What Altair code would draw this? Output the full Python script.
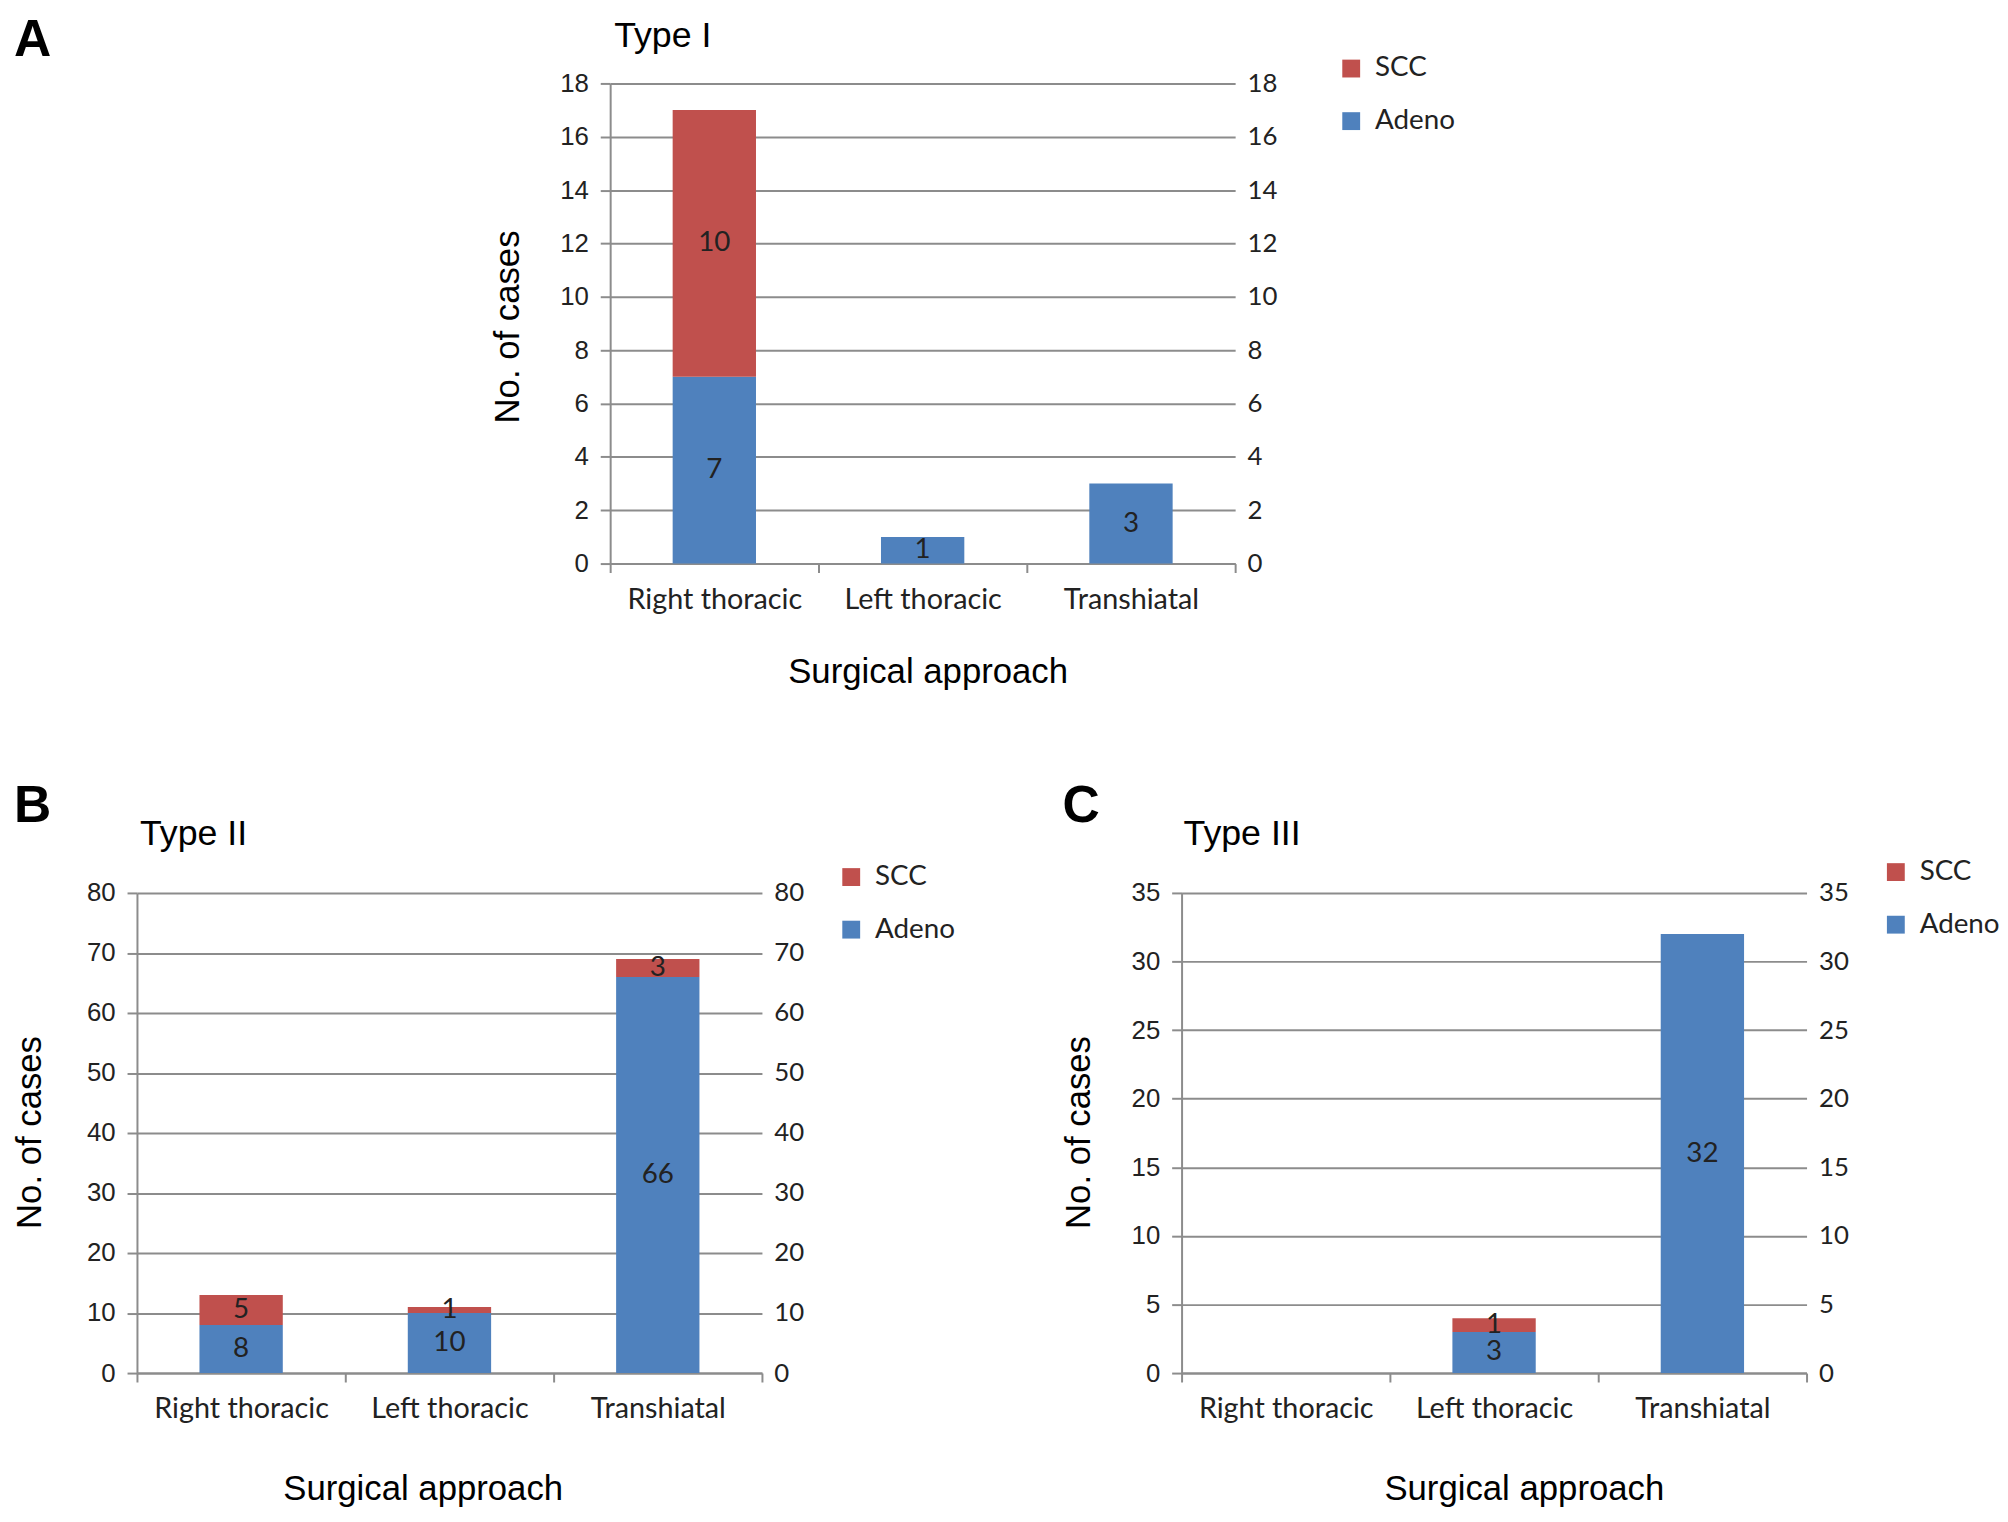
import altair as alt
import pandas as pd

categories = ["Right thoracic", "Left thoracic", "Transhiatal"]
series = ["SCC", "Adeno"]
colors = ["#C0504D", "#4F81BD"]

adeno_A = [7, 1, 3]
scc_A = [10, 0, 0]
adeno_B = [8, 10, 66]
scc_B = [5, 1, 3]
adeno_C = [0, 3, 32]
scc_C = [0, 1, 0]

ticks_A = [0, 2, 4, 6, 8, 10, 12, 14, 16, 18]
ticks_B = [0, 10, 20, 30, 40, 50, 60, 70, 80]
ticks_C = [0, 5, 10, 15, 20, 25, 30, 35]

panel_titles = ["Type I", "Type II", "Type III"]
letters = ["A", "B", "C"]
x_title = "Surgical approach"
y_title = "No. of cases"

GRID = "#8c8c8c"
TEXT = "#222222"
W, H = 630, 484


def make_df(adeno, scc):
    rows = []
    for i, c in enumerate(categories):
        rows.append({"cat": c, "series": "Adeno", "o": 0, "value": adeno[i]})
        rows.append({"cat": c, "series": "SCC", "o": 1, "value": scc[i]})
    return pd.DataFrame(rows)


def letter_layer(letter, lx, ly):
    return alt.Chart(pd.DataFrame({"t": [letter]})).mark_text(
        align="left", baseline="alphabetic", font="Liberation Sans",
        fontWeight="bold", fontSize=52, color="black",
    ).encode(text="t:N", x=alt.value(lx), y=alt.value(ly))


def panel(adeno, scc, ticks, title, lay, letter=None):
    df = make_df(adeno, scc)
    ymax = ticks[-1]

    xaxis = alt.Axis(
        title=x_title, labelAngle=0, grid=False, tickBand="extent",
        domainColor=GRID, domainWidth=2, tickColor=GRID, tickWidth=2, tickSize=9,
        labelFont="Lato", labelFontSize=29, labelColor=TEXT, labelPadding=13,
        titleFont="Liberation Sans", titleFontSize=35, titleFontWeight="normal",
        titleColor="black", titleX=lay["xtx"], titleY=lay["xty"],
        titleBaseline="alphabetic", titleAlign="center",
    )
    yaxis = alt.Axis(
        values=ticks, grid=True, gridColor=GRID, gridWidth=2,
        domainColor=GRID, domainWidth=2, tickColor=GRID, tickWidth=2, tickSize=10,
        labelFont="Liberation Sans", labelFontSize=26, labelColor=TEXT, labelPadding=12,
        title=y_title, titleFont="Liberation Sans", titleFontSize=35,
        titleFontWeight="normal", titleColor="black",
        titleX=lay["ytx"], titleY=lay["yty"], titleBaseline="alphabetic",
        titleAlign="center",
    )
    raxis = alt.Axis(
        orient="right", values=ticks, grid=False, domain=False, ticks=False,
        tickSize=0, labelPadding=12, labelFont="Lato", labelFontSize=26,
        labelColor=TEXT, title=None,
    )
    xs = alt.Scale(paddingInner=0, paddingOuter=0)
    xenc = alt.X("cat:N", sort=categories, scale=xs, axis=xaxis)

    bars = alt.Chart(df).mark_bar(size=84).encode(
        x=xenc,
        y=alt.Y("value:Q", stack="zero",
                scale=alt.Scale(domain=[0, ymax], nice=False), axis=yaxis),
        color=alt.Color(
            "series:N",
            scale=alt.Scale(domain=series, range=colors),
            legend=alt.Legend(
                orient="none", legendX=lay["lgx"], legendY=lay["lgy"],
                title=None, direction="vertical", symbolType="square",
                symbolSize=324, symbolStrokeWidth=0, labelFont="Lato",
                labelFontSize=28, labelColor=TEXT, rowPadding=25,
                labelOffset=10, padding=0,
            ),
        ),
        order=alt.Order("o:Q"),
    )

    labels = (
        alt.Chart(df)
        .transform_window(cum="sum(value)", groupby=["cat"],
                          sort=[alt.SortField("o")], frame=[None, 0])
        .transform_calculate(mid="datum.cum - datum.value / 2")
        .transform_filter("datum.value > 0")
        .mark_text(font="Lato", fontSize=28, color=TEXT, baseline="middle")
        .encode(
            x=xenc,
            y=alt.Y("mid:Q", scale=alt.Scale(domain=[0, ymax], nice=False), axis=None),
            text="value:Q",
        )
    )

    right = alt.Chart(df).mark_bar(size=84, opacity=0).encode(
        x=xenc,
        y=alt.Y("value:Q", stack="zero",
                scale=alt.Scale(domain=[0, ymax], nice=False), axis=raxis),
        order=alt.Order("o:Q"),
    )

    title_mark = alt.Chart(pd.DataFrame({"t": [title]})).mark_text(
        align="left", baseline="alphabetic", font="Liberation Sans",
        fontSize=36, color="black",
    ).encode(text="t:N", x=alt.value(lay["tx"]), y=alt.value(lay["ty"]))

    layers = [bars, labels, right, title_mark]
    if letter is not None:
        layers.append(letter_layer(letter, lay["lx"], lay["ly"]))

    return (
        alt.layer(*layers)
        .resolve_scale(y="independent")
        .properties(width=W, height=H)
    )


lay_A = dict(tx=4, ty=-37, lgx=733, lgy=-29,
             xtx=320, xty=120, ytx=-92, yty=245)
lay_B = dict(lx=-124, ly=-72, tx=3, ty=-48, lgx=706, lgy=-30,
             xtx=288, xty=127, ytx=-97, yty=241)
lay_C = dict(lx=-120, ly=-72, tx=2, ty=-48, lgx=706, lgy=-35,
             xtx=345, xty=127, ytx=-93, yty=241)

pA = panel(adeno_A, scc_A, ticks_A, panel_titles[0], lay_A)
pB = panel(adeno_B, scc_B, ticks_B, panel_titles[1], lay_B, letter=letters[1])
pC = panel(adeno_C, scc_C, ticks_C, panel_titles[2], lay_C, letter=letters[2])

spacerA = letter_layer(letters[0], -124, -28).properties(width=1, height=H)

row1 = (
    alt.hconcat(spacerA, pA, spacing=356)
    .resolve_scale(color="independent")
    .resolve_legend(color="independent")
)
row2 = (
    alt.hconcat(pB, pC, spacing=107)
    .resolve_scale(color="independent")
    .resolve_legend(color="independent")
)

chart = (
    alt.vconcat(row1, row2, spacing=91)
    .resolve_scale(color="independent")
    .resolve_legend(color="independent")
    .properties(padding={"left": 5, "top": 0, "right": 0, "bottom": 0},
                background="white")
    .configure_view(stroke=None)
)

chart.save("out.html", embed_options={"renderer": "svg", "actions": False})
